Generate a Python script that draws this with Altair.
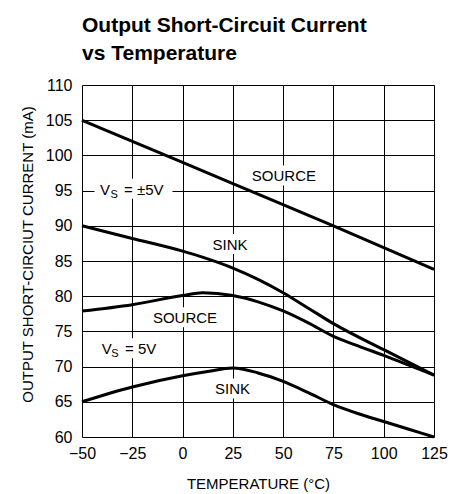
import altair as alt
import pandas as pd

# ---- data ----
temps_src5 = [-50, 0, 25, 75, 125]
src_pm5 = [105.0, 99.0, 96.0, 90.0, 83.8]

temps_sink5 = [-50, -25, 0, 12.5, 25, 37.5, 50, 62.5, 75, 100, 125]
sink_pm5 = [90.0, 88.2, 86.4, 85.3, 84.0, 82.4, 80.5, 78.3, 76.1, 72.4, 68.8]

temps_src = [-50, -25, 0, 10, 25, 37.5, 50, 62.5, 75, 87.5, 100, 112.5, 125]
src_5 = [77.9, 78.8, 80.1, 80.5, 80.1, 79.2, 77.9, 76.2, 74.3, 72.9, 71.6, 70.2, 68.8]

temps_sink = [-50, -25, 0, 12.5, 25, 37.5, 50, 62.5, 75, 87.5, 100, 112.5, 125]
sink_5 = [65.0, 67.1, 68.7, 69.3, 69.8, 69.1, 67.9, 66.3, 64.6, 63.3, 62.2, 61.1, 60.0]

x_ticks = [-50, -25, 0, 25, 50, 75, 100, 125]
y_ticks = [60, 65, 70, 75, 80, 85, 90, 95, 100, 105, 110]

# simple labels
lab_text = ["SOURCE", "SINK", "SOURCE", "SINK"]
lab_x = [50.4, 23.6, 1.2, 24.8]
lab_y = [97.15, 87.4, 77.0, 66.9]
lab_box = [72, 44, 72, 44]

# supply labels (V_S ...)
vs_rest = ["= \u00b15V", "= 5V"]
vs_x = [-24.4, -26.1]
vs_y = [95.27, 72.6]
vs_box = [78, 64]
vs_dx = [(-33.5, -23.0, -9.5), (-28.3, -18.8, -5.0)]

FONT = "Liberation Sans"
TICKFONT = "Liberation Sans"

rows = []
for name, xs, ys in [("a", temps_src5, src_pm5), ("b", temps_sink5, sink_pm5),
                     ("c", temps_src, src_5), ("d", temps_sink, sink_5)]:
    for t, v in zip(xs, ys):
        rows.append({"s": name, "t": t, "v": v})
df = pd.DataFrame(rows)

labels = pd.DataFrame({"text": lab_text, "x": lab_x, "y": lab_y})
vs = pd.DataFrame({"rest": vs_rest, "x": vs_x, "y": vs_y})

xscale = alt.Scale(domain=[-50, 125], nice=False, zero=False)
yscale = alt.Scale(domain=[60, 110], nice=False, zero=False)

xax = alt.Axis(values=x_ticks, title="TEMPERATURE (\u00b0C)", grid=True, domain=False, ticks=False,
               labelFont=TICKFONT, labelFontSize=16, labelColor="black", labelPadding=8,
               labelOverlap=False,
               titleFont=FONT, titleFontSize=15, titleFontWeight="normal", titleColor="black",
               titleBaseline="alphabetic", titleY=51, titleX=176, titleAlign="center",
               gridColor="black", gridWidth=1, gridOpacity=1, labelFlush=False)
yax = alt.Axis(values=y_ticks, title="OUTPUT SHORT-CIRCIUT CURRENT (mA)", grid=True, domain=False, ticks=False,
               labelFont=TICKFONT, labelFontSize=16, labelColor="black", labelPadding=10,
               labelOverlap=False,
               titleFont=FONT, titleFontSize=15, titleFontWeight="normal", titleColor="black",
               titleBaseline="alphabetic", titleAngle=270, titleX=-50, titleY=169, titleAlign="center",
               gridColor="black", gridWidth=1, gridOpacity=1, labelFlush=False)


def ex(field):
    return alt.X(field, scale=xscale, axis=xax)


def ey(field):
    return alt.Y(field, scale=yscale, axis=yax)


lines = alt.Chart(df).mark_line(color="black", strokeWidth=3, interpolate="monotone").encode(
    x=ex("t:Q"), y=ey("v:Q"), detail="s:N",
)

texts = alt.Chart(labels).mark_text(font=FONT, fontSize=15, color="black", baseline="middle", dy=1).encode(
    x=ex("x:Q"), y=ey("y:Q"), text="text:N"
)

boxes = []
for i in range(len(lab_text)):
    sub = labels.iloc[[i]]
    boxes.append(alt.Chart(sub).mark_rect(color="white", width=lab_box[i], height=20).encode(
        x=ex("x:Q"), y=ey("y:Q")))
vs_layers = []
for i in range(len(vs_rest)):
    sub = vs.iloc[[i]]
    enc = dict(x=ex("x:Q"), y=ey("y:Q"))
    boxes.append(alt.Chart(sub).mark_rect(color="white", width=vs_box[i], height=20).encode(**enc))
    dv, ds, dr = vs_dx[i]
    vs_layers.append(alt.Chart(sub).mark_text(font=FONT, fontSize=15, color="black", baseline="alphabetic",
                                              align="left", dx=dv, dy=6, text="V").encode(**enc))
    vs_layers.append(alt.Chart(sub).mark_text(font=FONT, fontSize=11, color="black", baseline="alphabetic",
                                              align="left", dx=ds, dy=9, text="S").encode(**enc))
    vs_layers.append(alt.Chart(sub).mark_text(font=FONT, fontSize=15, color="black", baseline="alphabetic",
                                              align="left", dx=dr, dy=6).encode(text="rest:N", **enc))

chart = alt.layer(*boxes, lines, texts, *vs_layers).properties(
    width=352, height=352,
    autosize=alt.AutoSizeParams(type="none"),
    padding={"left": 74, "top": 77, "right": 20, "bottom": 57},
    title=alt.TitleParams(text=["Output Short-Circuit Current", "vs Temperature"], anchor="start",
                          frame="group", font=FONT, fontSize=21, fontWeight="bold", color="black",
                          lineHeight=28, baseline="bottom", offset=-8),
).configure_view(stroke="black", strokeWidth=2).configure(background="white")

chart.save("out.html", embed_options={"renderer": "svg", "actions": False})
